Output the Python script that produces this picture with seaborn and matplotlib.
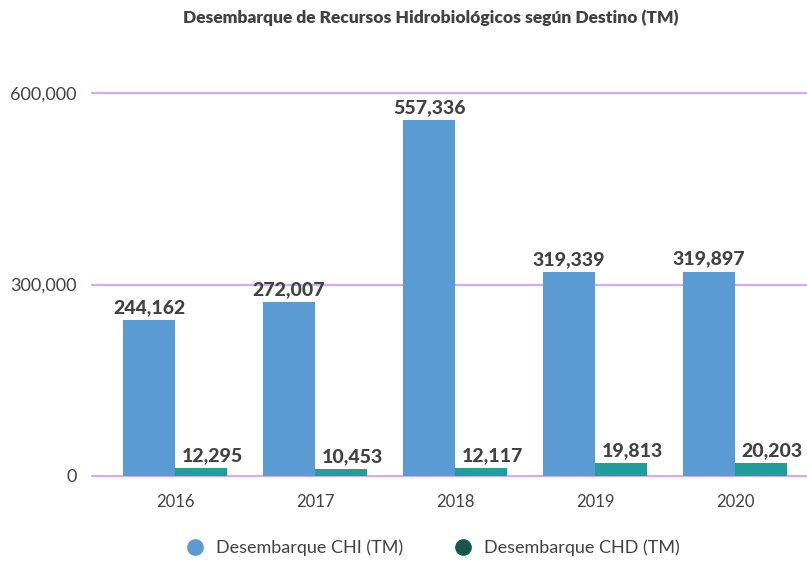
import pandas as pd
import matplotlib
matplotlib.use("Agg")
import matplotlib.pyplot as plt
from matplotlib.lines import Line2D
import seaborn as sns

years = ["2016", "2017", "2018", "2019", "2020"]
chi_values = [244162, 272007, 557336, 319339, 319897]
chd_values = [12295, 10453, 12117, 19813, 20203]
series_names = ["Desembarque CHI (TM)", "Desembarque CHD (TM)"]
y_ticks = [0, 300000, 600000]

bar_colors = ["#5b9bd3", "#229e9a"]
legend_colors = ["#5b9bd3", "#17574b"]
grid_color = "#d4aaf6"
text_color = "#424242"

sns.set_theme(style="white")
plt.rcParams["font.family"] = ["Lato", "DejaVu Sans"]

df = pd.DataFrame({
    "year": years * 2,
    "value": chi_values + chd_values,
    "serie": [series_names[0]] * len(years) + [series_names[1]] * len(years),
})

fig = plt.figure(figsize=(8.07, 5.88), dpi=100)
ax = fig.add_axes([92 / 807, (588 - 476) / 588, 715 / 807, (476 - 93) / 588])

sns.barplot(data=df, x="year", y="value", hue="serie", palette=bar_colors,
            width=0.743, gap=0, saturation=1, linewidth=0, legend=False, ax=ax)

ax.set_xlim(-0.593, 4.514)
ax.set_ylim(0, 600000)
ax.set_yticks(y_ticks)
ax.set_yticklabels([f"{v:,}" for v in y_ticks])
ax.set_xlabel("")
ax.set_ylabel("")
sns.despine(ax=ax, left=True, bottom=True)

ax.yaxis.grid(True, color=grid_color, linewidth=1.6)
ax.set_axisbelow(True)
for gl in ax.get_ygridlines():
    gl.set_clip_on(False)

ax.tick_params(axis="y", length=0, pad=11, labelsize=13, labelcolor=text_color)
ax.tick_params(axis="x", length=0, pad=13, labelsize=12, labelcolor=text_color)
for lbl in ax.get_yticklabels() + ax.get_xticklabels():
    lbl.set_fontweight(400)

# etiquetas de valor
for i, cont in enumerate(ax.containers):
    dx = 0 if i == 0 else 8
    for bar in cont:
        h = bar.get_height()
        ax.annotate(f"{int(h):,}", (bar.get_x() + bar.get_width() / 2, h),
                    xytext=(dx, 3), textcoords="offset points",
                    ha="center", va="bottom", fontsize=14, fontweight=900,
                    color=text_color)

fig.text(431 / 807, 1 - 18 / 588, "Desembarque de Recursos Hidrobiológicos según Destino (TM)",
         ha="center", va="center", fontsize=12.5, fontweight=800, color=text_color)

handles = [Line2D([0], [0], marker="o", linestyle="", markersize=11,
                  markerfacecolor=c, markeredgecolor=c) for c in legend_colors]
leg = fig.legend(handles, series_names, loc="center", bbox_to_anchor=(433 / 807, 1 - 548 / 588),
                 ncol=2, frameon=False, fontsize=13, handlelength=1.0,
                 handletextpad=0.67, columnspacing=2.8)
for t in leg.get_texts():
    t.set_color(text_color)
    t.set_fontweight(400)

fig.savefig("out.png", dpi=100)
